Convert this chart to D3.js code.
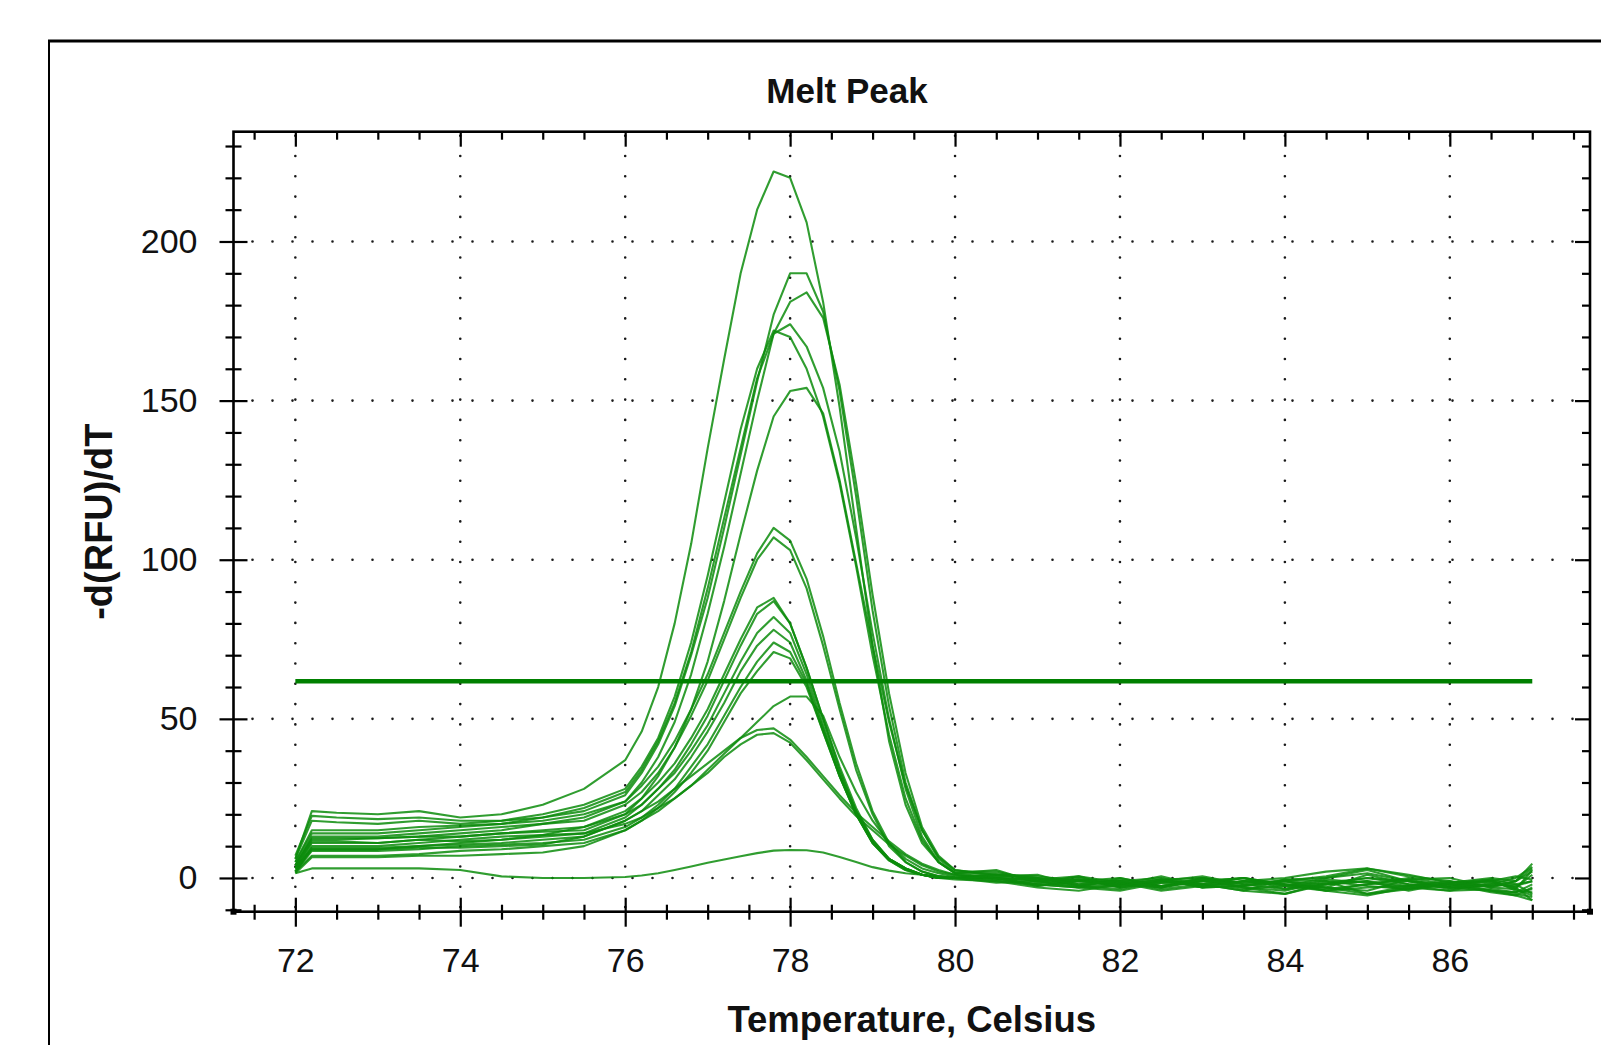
<!DOCTYPE html>
<html><head><meta charset="utf-8">
<script src="https://cdn.jsdelivr.net/npm/d3@7"></script>
<style>html,body{margin:0;padding:0;background:#fff;} svg{display:block;}</style>
</head><body>
<svg id="chart" width="1601" height="1045"></svg>
<script>
// ---- data ----
const temps = [72.0,72.2,72.5,73.0,73.5,74.0,74.5,75.0,75.5,76.0,76.2,76.4,76.6,76.8,77.0,77.2,77.4,77.6,77.8,78.0,78.2,78.4,78.6,78.8,79.0,79.2,79.4,79.6,79.8,80.0,80.5,81.0,81.5,82.0,82.5,83.0,83.5,84.0,84.5,85.0,85.5,86.0,86.5,86.8,87.0];
const wellC1 = [6,21,20.5,20,21,19,20,23,28,37,46,60,80,105,135,163,190,210,222,220,206,181,148,110,73,43,23,11,5,1.5,1.5,0,-2,-1,-3,-0.5,-2.5,-1,-3,1,-2,-3,-1,-3,1];
const wellC2 = [5,14,14,14,15,16,17,19,21,26,33,42,54,70,88,110,133,156,177,190,190,178,153,120,84,54,30,15,6,2,2,-1,0,-2.5,-0.5,-3,-1,-2.5,-4,-2,-0.5,-3,-2,0,3.5];
const wellC3 = [4,12,12,12.5,13,14,15,17,19,24,30,38,49,64,83,104,127,150,171,181,184,176,155,124,89,58,33,16,7,2.5,0.5,1,-2.5,-0.5,-3,0,-3,-4,-1,-5,-2.5,-1,-4,-5,-6];
const wellC4 = [7,19.5,19,18.5,19,18,18,19,22,27,34,43,55,71,91,113,135,157,171,174,167,154,134,107,77,50,28,13,5,1.5,2.5,-1.5,0.5,-3,-1.5,-2,-4,-0.5,0,2.5,-1,-3,-2.5,-1,2];
const wellC5 = [6,18,17.5,17,18,17,18,20,23,28,35,44,57,74,95,118,141,160,172,170,160,145,124,98,70,45,25,12,5,1.5,0,-2,-3,0,-2.5,-1,0,-3.5,-2,-1,-4,-1.5,-0.5,-4,-4.5];
const wellC6 = [3,9,9,9,10,11,12,13.5,16,20,25,32,41,53,68,87,108,128,145,153,154,146,125,99,73,49,29,15,6.5,2.5,1,0.5,-1,-2,0.5,-2.5,-1,0,2,3,0.5,-1,-3,-1,4.5];
const wellS1 = [5,15,15,15,16,16.5,17,18,20,24,29,35,43,53,64,77,90,102,110,106,94,76,55,36,21,11,5,2,0.5,0,-1,-2,-3,-4,-1.5,-0.5,-3,-5,-2,-1,-2.5,-4,-1.5,-3,-7];
const wellS2 = [4,13,13,13,14,15,16,17,18,23,27,33,41,51,62,75,88,100,107,103,91,73,53,34,20,10,5,2,0.5,0,0.5,-1,-0.5,-1,-3.5,-2,0,-2.5,-3.5,-2,0,-2,-4,-5.5,-3];
const wellS3 = [3,11,11,11,12,13,14,15,16,21,25,30,36,44,53,64,75,85,88,80,66,50,35,22,12,6,3,1,0,-0.5,-1,-3,-4,-2,-0.5,-3,-2.5,-1,-4,-5.5,-3,-2.5,-0.5,-2,-5];
const wellS4 = [2,10,10,10,11,12,13,13.5,14,19,23,28,34,42,51,62,73,83,87,80,66,50,34,21,11.5,6,3,1,0,0,0,-1,-2.5,-3.5,-1,0.5,-2,-3.5,-0.5,-1.5,-3,-4,-3.5,-4.5,-2];
const wellS5 = [4,12.5,12.5,12.5,13,13,14,14.5,15,20,23,28,33,40,48,58,68,77,82,77,64,48,33,21,12,6,3,1,0,0,-0.5,-2.5,-1,-1.5,-4,-2.5,-1,-2,-3,-4,-0.5,0,-3,-3.5,2.5];
const wellS6 = [3,9.5,9.5,9.5,10,10.5,11,12,13,18,21,26,31,38,46,55,65,73,78,74,62,47,32,20,11,6,3,1,0,0,1,0,-2,-1,0,-3,-2.5,-0.5,-1,-2.5,-3.5,-2,-1,0.5,-0.5];
const wellS7 = [2,8.5,8.5,8.5,9,10,10.5,11,12,16,19,23,28,35,42,51,60,68,74,71,61,46,32,20,11,5.5,2.5,1,0,0,0,-2.5,-1,0,-2.5,-1,-3.5,-2.5,0,1.5,-1,-3.5,-2,-2.5,-1];
const wellS8 = [2,7,7,7,7.5,8.5,9,10,11,15,18,22,27,33,40,49,58,65,71,69,60,46,32,20,11,5.5,2.5,1,0,0,-1.5,-1,-3,-2.5,-1,-2,0,-2,-4,-3,-2.5,-2,-4.5,-5.5,-7];
const wellM1 = [3,11.5,11.5,11,12,11.5,12,13,14,17,19,22,25,29,34,39,44,49,54,57,57,51,38,27,18,11,6,3,1.5,0.5,1,-0.5,0.5,-1.5,-2.5,0,-2,-1,0.5,3,1,-1.5,0,-1,3];
const wellM2 = [2,9,9,9,9.5,9.5,10,10.5,13,18,21,24,28,32,36,40,44,46.5,47,43.5,38,32,26,20.5,16,11.5,7.5,4.5,2.5,1,0,-2,-0.5,-3,-1,-2,-4,-5,-1.5,0,-2,-3,-4,-4.5,-3.5];
const wellM3 = [1.5,6.5,6.5,6.5,7,7,7.5,8,10,15,18,21,25,29,33,38,42,45,45.5,42.5,37,31,25,19.5,15,10.5,7,4,2,1,-0.5,0,-2.5,-2,-3,-1,0,-2,-3,-5,-3.5,-1.5,-1,-3.5,-5.5];
const wellL1 = [1.5,3,3,3,3,2.5,0.5,0,0,0.3,0.8,1.5,2.5,3.6,4.8,5.8,6.8,7.8,8.6,8.8,8.7,8,6.6,5,3.4,2.3,1.5,1,0.6,0.3,0,-0.5,-1,-2,-0.5,0,-1.5,-1,-2,0,-1,-2,-2.5,-2,-1];
const xTicks = [72,74,76,78,80,82,84,86];
const yTicks = [0,50,100,150,200];
const thresholdValue = 61.8;
const thresholdSpan = [72, 87];
const titleText = "Melt Peak";
const xTitle = "Temperature, Celsius";
const yTitle = "-d(RFU)/dT";

// ---- layout ----
const svg = d3.select("#chart");
const P = {left:233.5, right:1590, top:131.7, bottom:911.7};
const x = d3.scaleLinear().domain([71.25, 87.7]).range([P.left, P.right]);
const y = d3.scaleLinear().domain([-10.6, 234.5]).range([P.bottom, P.top]);
const FONT = "'Liberation Sans', Arial, sans-serif";
const green = "#0c8c0c";

// outer frame
svg.append("line").attr("x1",48).attr("x2",1601).attr("y1",41).attr("y2",41).attr("stroke","#000").attr("stroke-width",3);
svg.append("line").attr("x1",49).attr("x2",49).attr("y1",40).attr("y2",1045).attr("stroke","#000").attr("stroke-width",2);

// gridlines (dotted)
const grid = svg.append("g");
xTicks.forEach(t => {
  grid.append("line").attr("x1",x(t)).attr("x2",x(t)).attr("y1",P.top+4).attr("y2",P.bottom)
    .attr("stroke","#1a1a1a").attr("stroke-width",2.6).attr("stroke-linecap","round").attr("stroke-dasharray","0,20.3");
});
yTicks.forEach(t => {
  grid.append("line").attr("x1",P.left+19).attr("x2",P.right).attr("y1",y(t)).attr("y2",y(t))
    .attr("stroke","#1a1a1a").attr("stroke-width",2.6).attr("stroke-linecap","round").attr("stroke-dasharray","0,20");
});

// curves
const wells = [wellL1, wellM3, wellM2, wellM1, wellS8, wellS7, wellS6, wellS5, wellS4, wellS3, wellS2, wellS1, wellC6, wellC5, wellC4, wellC3, wellC2, wellC1];
const line = d3.line().x((d,i)=>x(temps[i])).y(d=>y(d));
svg.append("g").selectAll("path").data(wells).join("path")
  .attr("d", line).attr("fill","none").attr("stroke",green).attr("stroke-width",2.1).attr("stroke-opacity",0.85)
  .attr("stroke-linejoin","round");

// threshold
svg.append("line").attr("x1",x(thresholdSpan[0])).attr("x2",x(thresholdSpan[1]))
  .attr("y1",y(thresholdValue)).attr("y2",y(thresholdValue)).attr("stroke","#008000").attr("stroke-width",4.5);

// axes
const minorX = d3.range(71.5, 87.6, 0.5).filter(v => Math.abs(v - Math.round(v/2)*2) > 1e-6);
const minorY = d3.range(-10, 231, 10).filter(v => v % 50 !== 0);
function styleAxis(g){ g.select(".domain").remove(); g.selectAll("line").attr("stroke","#000").attr("stroke-width",2.2); g.selectAll("text").attr("font-family",FONT).attr("font-size",34).attr("fill","#111"); }

// bottom
svg.append("g").attr("transform",`translate(0,${P.bottom})`).call(d3.axisBottom(x).tickValues(xTicks).tickSize(15).tickPadding(21).tickFormat(d3.format("d"))).call(styleAxis);
svg.append("g").attr("transform",`translate(0,${P.bottom})`).call(d3.axisTop(x).tickValues(xTicks).tickSize(14).tickFormat("")).call(styleAxis);
svg.append("g").attr("transform",`translate(0,${P.bottom})`).call(d3.axisBottom(x).tickValues(minorX).tickSize(8).tickFormat("")).call(styleAxis);
svg.append("g").attr("transform",`translate(0,${P.bottom})`).call(d3.axisTop(x).tickValues(minorX).tickSize(7).tickFormat("")).call(styleAxis);
// top
svg.append("g").attr("transform",`translate(0,${P.top})`).call(d3.axisBottom(x).tickValues(xTicks).tickSize(15).tickFormat("")).call(styleAxis);
svg.append("g").attr("transform",`translate(0,${P.top})`).call(d3.axisBottom(x).tickValues(minorX).tickSize(8).tickFormat("")).call(styleAxis);
// left
svg.append("g").attr("transform",`translate(${P.left},0)`).call(d3.axisLeft(y).tickValues(yTicks).tickSize(14).tickPadding(22).tickFormat(d3.format("d"))).call(styleAxis);
svg.append("g").attr("transform",`translate(${P.left},0)`).call(d3.axisRight(y).tickValues(yTicks).tickSize(14).tickFormat("")).call(styleAxis);
svg.append("g").attr("transform",`translate(${P.left},0)`).call(d3.axisLeft(y).tickValues(minorY).tickSize(8).tickFormat("")).call(styleAxis);
svg.append("g").attr("transform",`translate(${P.left},0)`).call(d3.axisRight(y).tickValues(minorY).tickSize(8).tickFormat("")).call(styleAxis);
// right
svg.append("g").attr("transform",`translate(${P.right},0)`).call(d3.axisLeft(y).tickValues(yTicks).tickSize(15).tickFormat("")).call(styleAxis);
svg.append("g").attr("transform",`translate(${P.right},0)`).call(d3.axisLeft(y).tickValues(minorY).tickSize(8).tickFormat("")).call(styleAxis);

// plot frame
svg.append("rect").attr("x",P.left).attr("y",P.top).attr("width",P.right-P.left).attr("height",P.bottom-P.top)
  .attr("fill","none").attr("stroke","#000").attr("stroke-width",2.6);
svg.append("rect").attr("x",P.left-3).attr("y",P.bottom-3).attr("width",6).attr("height",6).attr("fill","#000");
svg.append("rect").attr("x",P.right-3).attr("y",P.bottom-3).attr("width",6).attr("height",6).attr("fill","#000");

// titles
svg.append("text").attr("x",847).attr("y",103).attr("text-anchor","middle").attr("font-family",FONT).attr("font-weight","bold").attr("font-size",35).attr("fill","#111").text(titleText);
svg.append("text").attr("x",(P.left+P.right)/2).attr("y",1032).attr("text-anchor","middle").attr("font-family",FONT).attr("font-weight","bold").attr("font-size",36.5).attr("fill","#111").text(xTitle);
svg.append("text").attr("transform",`translate(112,${(P.top+P.bottom)/2}) rotate(-90)`).attr("text-anchor","middle").attr("font-family",FONT).attr("font-weight","bold").attr("font-size",38).attr("fill","#111").text(yTitle);
</script>
</body></html>
